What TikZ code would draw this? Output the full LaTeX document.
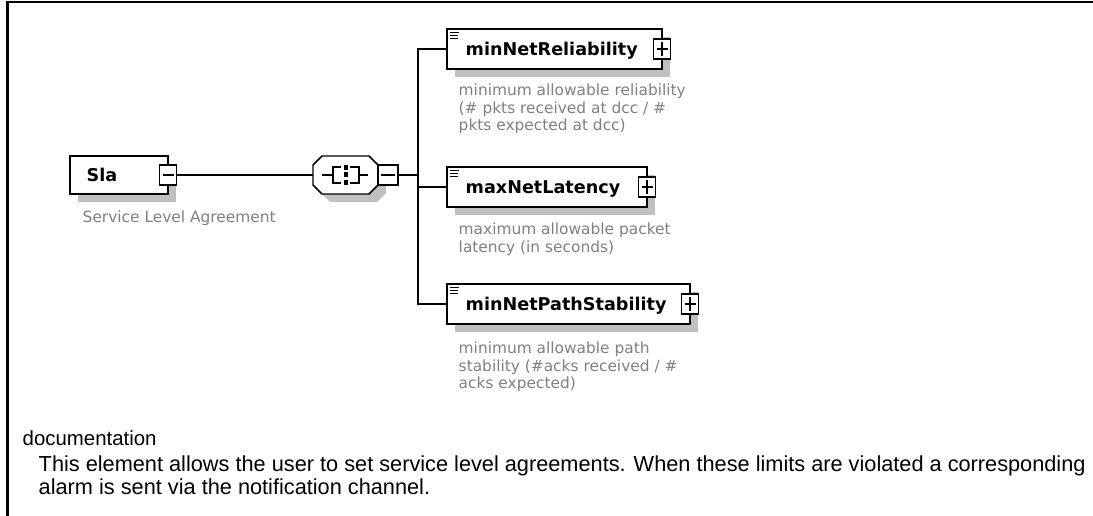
\documentclass[tikz,border=0pt]{standalone}
\usepackage{fontspec}
\setmainfont{DejaVu Sans}
\newfontfamily\docfont{Liberation Sans}
\usetikzlibrary{calc,shadows}
\definecolor{shadowgray}{RGB}{192,192,192}
\definecolor{descgray}{RGB}{128,128,128}
\begin{document}
\begin{tikzpicture}[x=0.75pt,y=-0.75pt,line width=1.1pt,
  elbox/.style={draw=black, fill=white, inner sep=0pt, outer sep=0pt, anchor=north west,
    minimum height=30pt,
    drop shadow={shadow xshift=6pt, shadow yshift=-6pt, fill=shadowgray, opacity=1}},
  seqbox/.style={inner sep=0pt, outer sep=0pt, minimum width=48.75pt, minimum height=28.5pt},
  expbox/.style={draw=black, fill=white, inner sep=0pt, outer sep=0pt, minimum width=12.75pt,
    minimum height=15pt, line width=1pt},
  minusmark/.style={path picture={\draw[line width=0.9pt]
     ($(path picture bounding box.west)+(3,0)$) -- ($(path picture bounding box.east)+(-3,0)$);}},
  plusmark/.style={path picture={\draw[line width=0.9pt]
     ($(path picture bounding box.west)+(3,0)$) -- ($(path picture bounding box.east)+(-3,0)$)
     ($(path picture bounding box.north)+(0,3)$) -- ($(path picture bounding box.south)+(0,-3)$);}},
  titletext/.style={font=\fontsize{13.2pt}{15pt}\selectfont\bfseries, inner sep=0pt, anchor=base west},
  desctext/.style={font=\fontsize{11.55pt}{13.125pt}\selectfont, text=descgray, inner sep=0pt, anchor=base west},
  dochead/.style={font=\docfont\fontsize{15.3pt}{17pt}\selectfont, inner sep=0pt, anchor=base west},
  docbody/.style={font=\docfont\fontsize{16.3pt}{17pt}\selectfont, inner sep=0pt, anchor=base west},
  iconline/.style={line width=1pt}
]
\useasboundingbox (0,0) rectangle (1093,516);
% frame
\draw[line width=1.8pt] (7.3,516) -- (7.3,2.2) -- (1093,2.2);

% Sla element
\node[elbox, minimum width=73.5pt, minimum height=28.5pt] (sla) at (70,156) {};
\node[expbox, minusmark] (slaexp) at (sla.east) {};
\node[titletext] (slat) at (86,182) {Sla};
\node[desctext] (slad) at (82,223) {Service Level Agreement};

% sequence compositor
\node[seqbox] (seq) at (345.5,175) {};
\begin{scope}[shift={(seq.center)}]
  \fill[shadowgray, shift={(8,8)}] (-23.5,-19) -- (23.5,-19) -- (32.5,-10) -- (32.5,10) -- (23.5,19)
     -- (-23.5,19) -- (-32.5,10) -- (-32.5,-10) -- cycle;
  \filldraw[fill=white] (-23.5,-19) -- (23.5,-19) -- (32.5,-10) -- (32.5,10) -- (23.5,19)
     -- (-23.5,19) -- (-32.5,10) -- (-32.5,-10) -- cycle;
  \draw (-23.5,0) -- (-12.5,0);
  \draw (-4.5,-8) -- (-12.5,-8) -- (-12.5,8) -- (-4.5,8);
  \draw (4.5,-8) -- (13.5,-8) -- (13.5,8) -- (4.5,8);
  \draw (13.5,0) -- (22.5,0);
  \fill (-2,-10) rectangle (2,-5);
  \fill (-2,-2.5) rectangle (2,2.5);
  \fill (-2,5) rectangle (2,10);
\end{scope}
\node[expbox, minusmark, minimum width=15pt, anchor=west] (seqexp) at (seq.east) {};

% child elements
\node[elbox, minimum width=161.25pt] (b1) at (447,29) {};
\node[expbox, plusmark] (b1exp) at (b1.east) {};
\node[elbox, minimum width=150pt] (b2) at (447,167) {};
\node[expbox, plusmark] (b2exp) at (b2.east) {};
\node[elbox, minimum width=182.25pt] (b3) at (447,284) {};
\node[expbox, plusmark] (b3exp) at (b3.east) {};

\foreach \b in {b1,b2,b3}{
  \draw[iconline] ($(\b.north west)+(3,3.5)$) -- +(9,0);
  \draw[iconline] ($(\b.north west)+(3,6.5)$) -- +(8,0);
  \draw[iconline] ($(\b.north west)+(3,9.5)$) -- +(8,0);
}

\node[titletext] (t1) at (465,56) {minNetReliability};
\node[titletext] (t2) at (465,194) {maxNetLatency};
\node[titletext] (t3) at (465,311) {minNetPathStability};

\node[desctext] (d1) at (458,96) {\parbox[t]{250pt}{minimum allowable reliability\\(\# pkts received at dcc / \#\\pkts expected at dcc)}};
\node[desctext] (d2) at (458,235) {\parbox[t]{250pt}{maximum allowable packet\\latency (in seconds)}};
\node[desctext] (d3) at (458,354) {\parbox[t]{250pt}{minimum allowable path\\stability (\#acks received / \#\\acks expected)}};

% connectors
\coordinate (bus) at (418,175);
\draw (slaexp.east) -- (seq.west);
\draw (seqexp.east) -- (bus);
\draw (b1.west) -- (b1.west -| bus) -- (b3.west -| bus) -- (b3.west);
\draw (b2.west) -- (b2.west -| bus);

% documentation
\node[dochead] (doch) at (22,446) {documentation};
\node[docbody] (doc1) at (38,472) {This element allows the user to set service level agreements. When these limits are violated a corresponding};
\node[docbody] (doc2) at (38,495) {alarm is sent via the notification channel.};
\end{tikzpicture}
\end{document}
